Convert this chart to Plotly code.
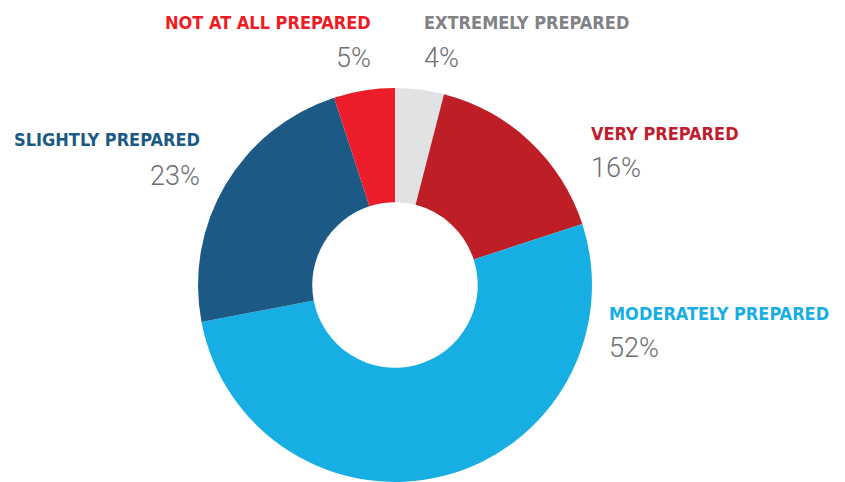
import plotly.graph_objects as go

# ---- data ----
categories = ["EXTREMELY PREPARED", "VERY PREPARED", "MODERATELY PREPARED",
              "SLIGHTLY PREPARED", "NOT AT ALL PREPARED"]
values = [4, 16, 52, 23, 5]

# ---- styles ----
slice_colors = ["#E1E2E4", "#BE1E26", "#17AEE3", "#1C5A85", "#EC1C2B"]
label_colors = ["#808285", "#BE1E2D", "#17AEE3", "#1C5A85", "#ED1C24"]
pct_color = "#6D6E71"

# page body has an 8px margin; work in figure coordinates
OFF = 8
W, H = 845 - OFF, 482 - OFF
# label anchor positions in window pixels: (x, title_y, pct_y, anchor)
label_pos = {
    "EXTREMELY PREPARED": (422, 23, 58, "left"),
    "VERY PREPARED": (589, 133, 168, "left"),
    "MODERATELY PREPARED": (607, 313, 348, "left"),
    "SLIGHTLY PREPARED": (202, 139, 176, "right"),
    "NOT AT ALL PREPARED": (373, 23, 58, "right"),
}

cx, cy, r = 395 - OFF, 285 - OFF, 197

fig = go.Figure(go.Pie(
    labels=categories,
    values=values,
    marker=dict(colors=slice_colors, line=dict(width=0)),
    hole=0.42,
    sort=False,
    direction="clockwise",
    rotation=0,
    textinfo="none",
    hoverinfo="label+percent",
    domain=dict(x=[(cx - r) / W, (cx + r) / W],
                y=[max(0, (H - cy - r) / H), min(1, (H - cy + r) / H)]),
    showlegend=False,
))

title_font = "DejaVu Sans Condensed, Liberation Sans Narrow, sans-serif"
pct_font = "Roboto, DejaVu Sans Condensed, sans-serif"
annotations = []
for cat, val, col in zip(categories, values, label_colors):
    x, ty, py, anc = label_pos[cat]
    annotations.append(dict(
        x=(x - OFF) / W, y=1 - (ty - OFF) / H, xref="paper", yref="paper",
        text=f"<b>{cat}</b>", showarrow=False, xanchor=anc, yanchor="middle",
        font=dict(family=title_font, size=18, color=col),
    ))
    annotations.append(dict(
        x=(x - OFF) / W, y=1 - (py - OFF) / H, xref="paper", yref="paper",
        text=f"{val}%", showarrow=False, xanchor=anc, yanchor="middle",
        font=dict(family=pct_font, size=27, color=pct_color, weight=300),
    ))

fig.update_layout(
    width=W, height=H,
    margin=dict(l=0, r=0, t=0, b=0),
    paper_bgcolor="white", plot_bgcolor="white",
    annotations=annotations,
)

fig.write_html("out.html")
